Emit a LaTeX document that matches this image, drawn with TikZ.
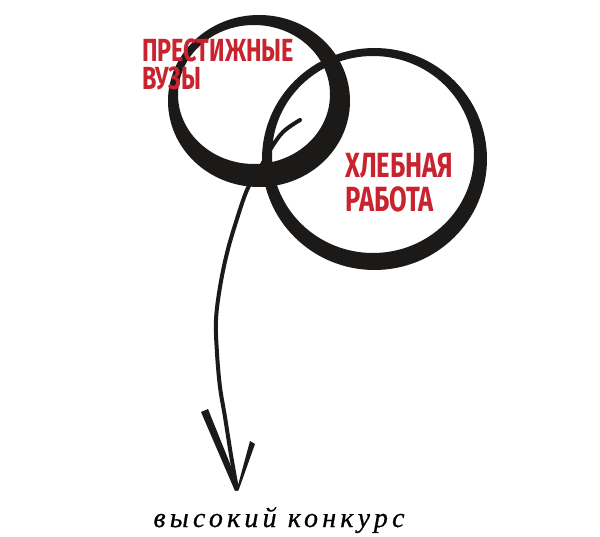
\documentclass[tikz,border=0pt]{standalone}
\usepackage{fontspec}
\usepackage{tikz}
\newfontfamily\labelfont{Fira Sans}[FakeStretch=0.73]
\newfontfamily\captionfont{Liberation Serif}[LetterSpace=15, FakeBold=0.6]
\definecolor{ink}{HTML}{1C1A18}
\definecolor{labelred}{HTML}{C8232E}
\tikzstyle{ring} = [fill=ink, even odd rule]
\tikzstyle{lbl} = [text=labelred, anchor=base west, align=left, inner sep=0pt]
\tikzstyle{shaft} = [draw=ink, line width=4pt, line cap=round, line join=round]
\tikzstyle{barb} = [fill=ink]

\begin{document}
\begin{tikzpicture}[x=1pt, y=-1pt]
\useasboundingbox (0,0) rectangle (600,537);
% the two rings
\fill[ring] (259,101) ellipse [x radius=91, y radius=86] (254,94.5) ellipse [x radius=76, y radius=69.5];
\fill[ring] (374.5,159) ellipse [x radius=112.5, y radius=111] (373,154.5) ellipse [x radius=101, y radius=98.5];

\node[lbl, font=\labelfont\bfseries\fontsize{32}{28}\selectfont] (vuzy) at (142,90) {ПРЕСТИЖНЫЕ\\ВУЗЫ};
\node[lbl, font=\labelfont\bfseries\fontsize{35}{34}\selectfont] (rabota) at (345,212) {ХЛЕБНАЯ\\РАБОТА};

\coordinate (tail) at (300,120);
\coordinate (tip) at (237,489);
\draw[shaft] plot[smooth, tension=0.6] coordinates {(tail) (283,132) (270,150) (258,172) (247,190) (236,222) (227,253) (220,287) (216,320) (217,353) (220,387) (225,417) (231,455) (tip)};
\fill[barb] (201,412) -- (208,409) -- (239,486) -- (tip) -- (235,491) -- cycle;
\fill[barb] (250,441) -- (255,444) -- (239,489) -- (tip) -- cycle;

\node[font=\captionfont\itshape\fontsize{28}{32}\selectfont, anchor=base, inner sep=0pt] (konkurs) at (279,527) {высокий конкурс};
\end{tikzpicture}
\end{document}
